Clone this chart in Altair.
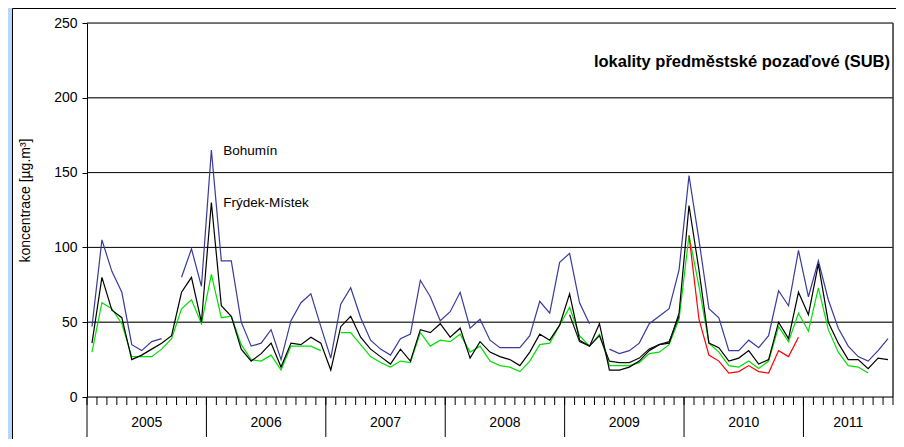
import altair as alt
import pandas as pd

N = None
# monthly values Jan 2005 .. Sep 2011 (81 months)
bohumin = [47, 105, 84, 70, 35, 31, 37, 39, N, 80, 99, 74,
           165, 91, 91, 50, 34, 36, 45, 25, 51, 63, 69, 47,
           26, 62, 73, 53, 38, 32, 28, 39, 42, 78, 67, 51,
           57, 70, 46, 52, 38, 33, 33, 33, 41, 64, 56, 90,
           96, 63, 49, N, 32, 29, 31, 36, 49, 54, 59, 85,
           148, 105, 59, 53, 31, 31, 38, 33, 41, 71, 61, 98,
           67, 91, 65, 46, 34, 27, 24, 31, 39]
frydek = [36, 80, 58, 53, 25, 28, 32, 36, 41, 70, 80, 50,
          130, 61, 54, 32, 24, 29, 36, 20, 36, 35, 40, 36,
          18, 47, 54, 40, 32, 27, 22, 32, 24, 45, 43, 49,
          40, 46, 26, 37, 30, 27, 25, 21, 30, 42, 38, 48,
          69, 38, 34, 49, 18, 18, 20, 24, 31, 35, 36, 56,
          128, 85, 36, 33, 24, 26, 31, 22, 25, 50, 39, 70,
          55, 89, 50, 36, 25, 25, 19, 26, 25]
second_black = [N] * 48 + [55, 37, 34, 41, 24, 23, 23, 26, 32, 35, 37, 54] + [N] * 21
green = [30, 63, 59, 49, 27, 27, 27, 32, 39, 59, 65, 49,
         82, 53, 54, 35, 25, 24, 28, 18, 34, 34, 34, 31,
         N, 43, 43, 35, 27, 23, 20, 24, 23, 43, 34, 38,
         37, 42, 30, 34, 24, 21, 20, 17, 24, 35, 36, 48,
         60, 41, 34, 42, 21, 21, 21, 23, 29, 30, 35, 52,
         108, 74, 36, 30, 21, 20, 24, 19, 24, 47, 37, 56,
         44, 73, 45, 30, 21, 20, 16, N, N]
red = [N] * 60 + [108, 52, 28, 24, 16, 17, 21, 17, 16, 31, 27, 40] + [N] * 9

years = ["2005", "2006", "2007", "2008", "2009", "2010", "2011"]
year_start = [0, 12, 24, 36, 48, 60, 72]
year_len = [12, 12, 12, 12, 12, 12, 9]
y_ticks = [0, 50, 100, 150, 200, 250]
grid_thin = [100, 150, 250]
grid_thick = [50, 200]

FONT = "Liberation Sans"
W, H = 806, 374
PXM = W / 81.0      # px per month
PXV = H / 250.0     # px per unit


def to_rows(vals, name):
    rows, seg = [], 0
    for i, v in enumerate(vals):
        if v is None:
            seg += 1
            continue
        rows.append({"x": i + 0.5, "v": v, "seg": f"{name}{seg}"})
    return pd.DataFrame(rows)


xs = alt.Scale(domain=[0, 81], nice=False, zero=False)
ys = alt.Scale(domain=[0, 250], nice=False)

grid1 = alt.Chart(pd.DataFrame({"v": grid_thin})).mark_rule(
    color="black", strokeWidth=1).encode(
    y=alt.Y("v:Q", scale=ys, axis=alt.Axis(
        values=y_ticks, grid=False, domainColor="black", tickColor="black",
        tickSize=5, labelFontSize=14, labelFont=FONT, labelColor="black",
        labelPadding=5, title="koncentrace [µg.m³]", titleFont=FONT,
        titleFontSize=14, titleFontWeight="normal", titleColor="black",
        titleX=-62, titleY=177, titleAngle=270, titleAlign="center",
        titleBaseline="middle", zindex=1)),
    x=alt.value(0), x2=alt.value(W))
grid2 = alt.Chart(pd.DataFrame({"v": grid_thick})).mark_rule(
    color="#444444", strokeWidth=1.6).encode(
    y=alt.Y("v:Q", scale=ys), x=alt.value(0), x2=alt.value(W))

rborder = alt.Chart(pd.DataFrame({"b": [81]})).mark_rule(
    color="#333333", strokeWidth=1.5).encode(
    x=alt.X("b:Q", scale=xs, axis=None), y=alt.value(0), y2=alt.value(H))
zline = alt.Chart(pd.DataFrame({"v": [0]})).mark_rule(
    color="black", strokeWidth=1).encode(
    y=alt.Y("v:Q", scale=ys), x=alt.value(0), x2=alt.value(W))

mticks = alt.Chart(pd.DataFrame({"b": list(range(82))})).mark_rule(
    color="black", strokeWidth=1).encode(
    x=alt.X("b:Q", scale=xs, axis=None), y=alt.value(H), y2=alt.value(H + 8))

ysep = alt.Chart(pd.DataFrame({"b": year_start})).mark_rule(
    color="black", strokeWidth=1).encode(
    x=alt.X("b:Q", scale=xs, axis=None), y=alt.value(H), y2=alt.value(H + 40))

ylab_df = pd.DataFrame({"t": years,
                        "c": [s + l / 2 for s, l in zip(year_start, year_len)]})
ylabels = alt.Chart(ylab_df).mark_text(
    font=FONT, fontSize=14, color="black", baseline="middle", align="center").encode(
    x=alt.X("c:Q", scale=xs, axis=None), y=alt.value(H + 25.5), text="t:N")


def line(vals, name, color, width=1.2):
    return alt.Chart(to_rows(vals, name)).mark_line(
        color=color, strokeWidth=width).encode(
        x=alt.X("x:Q", scale=xs, axis=None),
        y=alt.Y("v:Q", scale=ys),
        detail="seg:N")


l_green = line(green, "g", "#00e000")
l_blue = line(bohumin, "b", "#3a3a9c")
l_black = line(frydek, "k", "#000000")
l_black2 = line(second_black, "k2", "#111111")
l_red = line(red, "r", "#ff0000")

ann_df = pd.DataFrame({"x": [13.7, 13.7], "v": [164.6, 129.5],
                       "t": ["Bohumín", "Frýdek-Místek"]})
ann = alt.Chart(ann_df).mark_text(
    font=FONT, fontSize=13.5, color="black", align="left", baseline="middle").encode(
    x=alt.X("x:Q", scale=xs, axis=None), y=alt.Y("v:Q", scale=ys), text="t:N")

title_df = pd.DataFrame({"x": [80.7], "v": [224], "t": ["lokality předměstské pozaďové (SUB)"]})
title = alt.Chart(title_df).mark_text(
    font=FONT, fontSize=16.5, fontWeight="bold", color="black",
    align="right", baseline="middle").encode(
    x=alt.X("x:Q", scale=xs, axis=None), y=alt.Y("v:Q", scale=ys), text="t:N")

# frame decorations drawn last (outside the plot area)
strip_df = pd.DataFrame({"x1": [-80 / PXM], "x2": [-74.5 / PXM],
                         "y1": [250 + 16 / PXV], "y2": [250 - 420 / PXV]})
strip = alt.Chart(strip_df).mark_rect(color="#b6d6fb", opacity=1).encode(
    x=alt.X("x1:Q", scale=xs, axis=None), x2="x2:Q",
    y=alt.Y("y1:Q", scale=ys), y2="y2:Q")
border_df = pd.DataFrame({"x1": [-74.5 / PXM], "x2": [811 / PXM],
                          "y1": [250 + 14.5 / PXV], "y2": [250 - 440 / PXV]})
border = alt.Chart(border_df).mark_rect(
    fill="white", fillOpacity=0, stroke="black", strokeWidth=1).encode(
    x=alt.X("x1:Q", scale=xs, axis=None), x2="x2:Q",
    y=alt.Y("y1:Q", scale=ys), y2="y2:Q")

chart = alt.layer(
    grid1, grid2, rborder, zline, mticks, ysep, ylabels,
    l_green, l_blue, l_black, l_black2, l_red, ann, title, strip, border
).properties(
    width=W, height=H,
    padding={"left": 79, "top": 15, "right": 3, "bottom": 42},
    autosize=alt.AutoSizeParams(type="none"),
).configure(background="#ffffff")

chart.save("out.html", embed_options={"renderer": "svg", "actions": False})
